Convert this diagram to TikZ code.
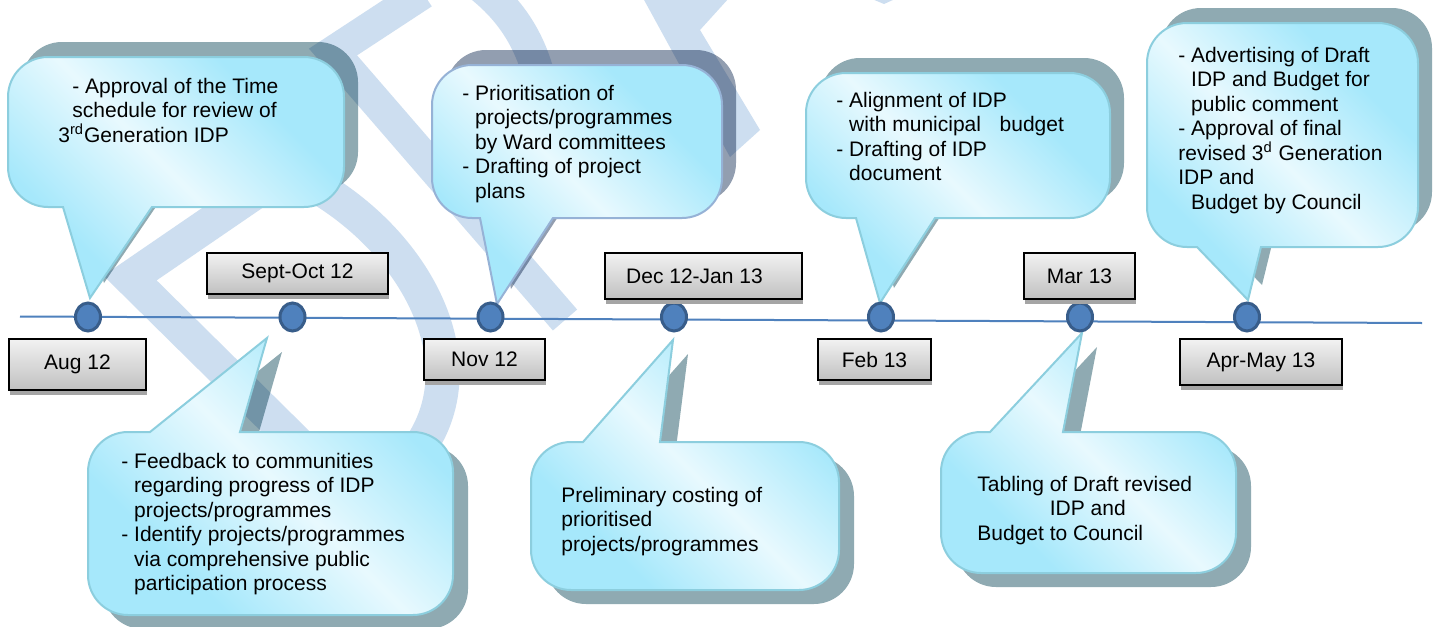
\documentclass[tikz,border=0pt]{standalone}
\usepackage{fontspec}
\setmainfont{Liberation Sans}
\usetikzlibrary{shapes.geometric,shadows}

\definecolor{wmark}{RGB}{205,222,240}
\definecolor{bubC}{RGB}{166,232,251}
\definecolor{bubW}{RGB}{232,249,254}
\definecolor{bubEdge}{RGB}{140,206,222}
\definecolor{bubEdgeB}{RGB}{150,178,214}
\definecolor{bubShade}{RGB}{143,170,178}
\definecolor{bubShadeB}{RGB}{146,158,176}
\definecolor{axis}{RGB}{79,129,189}
\definecolor{dotline}{RGB}{56,93,138}
\definecolor{boxTop}{RGB}{242,242,242}
\definecolor{boxBot}{RGB}{192,192,192}
\definecolor{boxShade}{RGB}{165,165,165}

\pgfdeclarehorizontalshading{bubbleshade}{100bp}{color(0bp)=(bubC); color(30bp)=(bubC); color(50bp)=(bubW); color(70bp)=(bubC); color(100bp)=(bubC)}

\newcommand\bubfont{\fontsize{10.5pt}{12.25pt}\selectfont}
\newcommand\ind{\hphantom{-\ }}

% Speech bubble, tail on the lower edge:
% #1 left, #2 top, #3 right, #4 bottom, #5/#6 tail base, #7 tip
\newcommand\bubbledown[7]{(#5,#4) [rounded corners=20pt] -- (#1,#4) -- (#1,#2) -- (#3,#2) -- (#3,#4) [sharp corners] -- (#6,#4) -- (#7) -- cycle}
% Speech bubble, tail on the upper edge
\newcommand\bubbleup[7]{(#6,#2) [rounded corners=20pt] -- (#3,#2) -- (#3,#4) -- (#1,#4) -- (#1,#2) [sharp corners] -- (#5,#2) -- (#7) -- cycle}

\tikzset{
  wm/.style={draw=wmark, line width=16pt, line cap=butt, line join=miter},
  bubshadow/.style={fill=bubShade},
  bubshadowB/.style={fill=bubShadeB},
  bubble/.style={shading=bubbleshade, shading angle=45, draw=bubEdge, line width=1pt},
  bubbleB/.style={bubble, draw=bubEdgeB},
  bubtext/.style={anchor=north west, inner sep=0pt, align=left, font=\bubfont, text=black},
  timeline/.style={draw=axis, line width=1pt},
  dot/.style={ellipse, minimum width=12.5pt, minimum height=14pt, inner sep=0pt,
    fill=axis, draw=dotline, line width=1.5pt},
  datebox/.style={rectangle, draw=black, line width=1pt, top color=boxTop, bottom color=boxBot,
    font=\bubfont, inner sep=0pt,
    drop shadow={shadow xshift=0.5pt, shadow yshift=-2.5pt, fill=boxShade, opacity=1}},
}

\begin{document}
\begin{tikzpicture}[x=0.5pt,y=-0.5pt]
\useasboundingbox (0,0) rectangle (1437,627);
\fill[white] (0,0) rectangle (1437,627);

% "Draft" watermark strokes
\draw[wm] (423,-7) -- (333,52) -- (565,320);
\draw[wm, line width=17pt] (295,165) -- (130,278) -- (360,505);
\draw[wm, line width=17pt] (285,170) .. controls (420,230) and (495,380) .. (400,470);
\draw[wm] (465,-25) .. controls (510,5) and (538,45) .. (545,110);
\fill[wmark] (643,-2) -- (729,-2) -- (700,30) -- (760,130) -- (730,157) -- cycle;
\fill[wmark] (872,-1) -- (895,-1) -- (884,4) -- cycle;

% bubble shadows
\begin{scope}[blend mode=multiply]
  \fill[bubshadow, shift={(14,-15)}] \bubbledown{8}{57}{344}{207}{63}{152}{90,298};
  \fill[bubshadow, shift={(15,14)}] \bubbleup{88}{432}{453}{615}{150}{240}{267,338};
  \fill[bubshadowB, shift={(14,-15)}] \bubbledown{432}{65}{722}{218}{480}{553}{497,304};
  \fill[bubshadow, shift={(15,14)}] \bubbleup{531}{442}{839}{590}{583}{660}{673,340};
  \fill[bubshadow, shift={(14,-15)}] \bubbledown{806}{73}{1110}{218}{856}{935}{880,303};
  \fill[bubshadow, shift={(15,14)}] \bubbleup{941}{432}{1236}{573}{990}{1063}{1082,333};
  \fill[bubshadow, shift={(14,-15)}] \bubbledown{1147}{23}{1418}{247}{1197}{1261}{1248,300};
\end{scope}

% bubbles
\shadedraw[bubble] \bubbledown{8}{57}{344}{207}{63}{152}{90,298};
\shadedraw[bubble] \bubbleup{88}{432}{453}{615}{150}{240}{267,338};
\shadedraw[bubbleB] \bubbledown{432}{65}{722}{218}{480}{553}{497,304};
\shadedraw[bubble] \bubbleup{531}{442}{839}{590}{583}{660}{673,340};
\shadedraw[bubble] \bubbledown{806}{73}{1110}{218}{856}{935}{880,303};
\shadedraw[bubble] \bubbleup{941}{432}{1236}{573}{990}{1063}{1082,333};
\shadedraw[bubble] \bubbledown{1147}{23}{1418}{247}{1197}{1261}{1248,300};

% bubble texts
\node[bubtext] (txtaug) at (58,75.85) {\strut\hspace*{7pt}- Approval of the Time\\
  \hspace*{7pt}schedule for review of\\
  3\textsuperscript{rd}Generation IDP};
\node[bubtext] (txtsep) at (121,450.85) {\strut- Feedback to communities\\
  \ind regarding progress of IDP\\
  \ind projects/programmes\\
  - Identify projects/programmes\\
  \ind via comprehensive public\\
  \ind participation process};
\node[bubtext] (txtnov) at (462,82.85) {\strut- Prioritisation of\\
  \ind projects/programmes\\
  \ind by Ward committees\\
  - Drafting of project\\
  \ind plans};
\node[bubtext] (txtdec) at (561,484.85) {\strut Preliminary costing of\\
  prioritised\\
  projects/programmes};
\node[bubtext] (txtfeb) at (836,89.85) {\strut- Alignment of IDP\\
  \ind with municipal\hspace{6.4pt} budget\\
  - Drafting of IDP\\
  \ind document};
\node[bubtext] (txtmar) at (977,473.85) {\strut Tabling of Draft revised\\
  \hspace*{36.25pt}IDP and\\
  Budget to Council};
\node[bubtext] (txtapr) at (1178,44.85) {\strut- Advertising of Draft\\
  \ind IDP and Budget for\\
  \ind public comment\\
  - Approval of final\\
  revised 3\textsuperscript{d} Generation\\
  IDP and\\
  \ind Budget by Council};

% time axis
\coordinate (axisL) at (20,316.5);
\coordinate (axisR) at (1422,323);
\draw[timeline] (axisL) -- (axisR);

\node[dot] (daug) at (88,317) {};
\node[dot] (dsep) at (292.5,317) {};
\node[dot] (dnov) at (490.5,317) {};
\node[dot] (ddec) at (674,317) {};
\node[dot] (dfeb) at (881,317) {};
\node[dot] (dmar) at (1080,317) {};
\node[dot] (dapr) at (1247,317) {};

% month labels
\node[datebox, minimum width=68.5pt, minimum height=25.5pt] (laug) at (77.5,364.5) {Aug 12};
\node[datebox, minimum width=90.5pt, minimum height=20.5pt] (lsep) at (297.5,273.5) {Sept-Oct 12};
\node[datebox, minimum width=60.5pt, minimum height=20.5pt] (lnov) at (484.5,359.5) {Nov 12};
\node[datebox, minimum width=98.5pt, minimum height=23pt] (ldec) at (703.5,276) {\hspace*{-9pt}Dec 12-Jan 13};
\node[datebox, minimum width=56.5pt, minimum height=20.5pt] (lfeb) at (874.5,359.5) {Feb 13};
\node[datebox, minimum width=55.5pt, minimum height=23pt] (lmar) at (1079.5,276) {Mar 13};
\node[datebox, minimum width=81pt, minimum height=23pt] (lapr) at (1261,362) {Apr-May 13};
\end{tikzpicture}
\end{document}
